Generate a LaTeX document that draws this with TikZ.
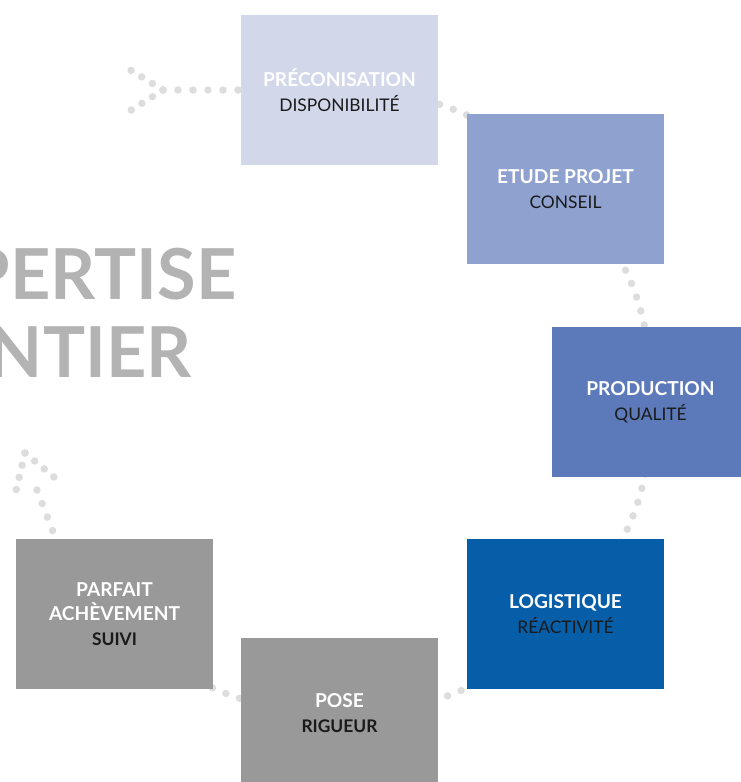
\documentclass[tikz,border=0pt]{standalone}
\usepackage{fontspec}
\setmainfont{Lato}
\usetikzlibrary{backgrounds}
\definecolor{preco}{HTML}{D2D7EA}
\definecolor{etude}{HTML}{8EA1CF}
\definecolor{prod}{HTML}{5C7AB9}
\definecolor{logi}{HTML}{065EA9}
\definecolor{grisbox}{HTML}{999999}
\definecolor{grispoint}{HTML}{DDDDDD}
\definecolor{grisgrand}{HTML}{B3B3B3}
\definecolor{soustitre}{HTML}{1A1A1A}
\newcommand{\etapetitre}[1]{\textcolor{white}{\fontsize{10.9}{14}\selectfont\bfseries #1}}
\newcommand{\etapesous}[1]{\textcolor{soustitre}{#1}}
\tikzset{
  etape/.style={fill=#1, minimum width=3.94cm, minimum height=3cm, inner sep=0pt,
    align=center, font=\fontsize{9.9}{14}\selectfont},
  pointille/.style={draw=grispoint, line width=0.15cm, line cap=round, dash pattern=on 0pt off #1},
  pointille/.default=0.29cm,
  grandtexte/.style={anchor=base east, inner sep=0pt, text=grisgrand,
    font=\fontsize{40}{40}\selectfont\bfseries}
}
\begin{document}
\begin{tikzpicture}[x=0.02cm, y=-0.02cm]
    \useasboundingbox (0,0) rectangle (741,782);

    \node[grandtexte] (expertise) at (237,299) {PERTISE};
    \node[grandtexte] (chantier) at (192,377) {NTIER};

    \node[etape=preco] (preco) at (339.5,90) {\etapetitre{PRÉCONISATION}\\\etapesous{DISPONIBILITÉ}};
    \node[etape=etude] (etude) at (565.5,189) {\etapetitre{ETUDE PROJET}\\\etapesous{CONSEIL}};
    \node[etape=prod] (production) at (650.5,402) {\etapetitre{PRODUCTION}\\\etapesous{QUALITÉ}};
    \node[etape=logi] (logistique) at (565.5,614) {\etapetitre{LOGISTIQUE}\\\etapesous{RÉACTIVITÉ}};
    \node[etape=grisbox] (pose) at (339.5,713) {\etapetitre{POSE}\\\etapesous{\bfseries RIGUEUR}};
    \node[etape=grisbox] (parfait) at (114.5,614) {\etapetitre{PARFAIT}\\\etapetitre{ACHÈVEMENT}\\\etapesous{\bfseries SUIVI}};

    \coordinate (queue) at (163,90);
    \coordinate (queueh) at (130.5,70);
    \coordinate (queueb) at (130.5,110.5);
    \coordinate (fleche) at (37,490);
    \coordinate (pointe) at (25,453);
    \coordinate (pointeg) at (16,490.5);
    \coordinate (pointed) at (54.5,477.5);

    \begin{scope}[on background layer]
    \draw[pointille] (preco.center) to[bend left=23] (etude.center);
    \draw[pointille] (etude.center) to[bend left=23] (production.center);
    \draw[pointille] (production.center) to[bend left=23] (logistique.center);
    \draw[pointille] (logistique.center) to[bend left=23] (pose.center);
    \draw[pointille] (pose.center) to[bend left=23] (parfait.center);
    \draw[pointille] (fleche) -- (parfait.128);
    \draw[pointille=0.25cm] (pointe) -- (pointeg);
    \draw[pointille=0.25cm] (pointe) -- (pointed);
    \draw[pointille=0.3cm] (queue) -- (preco.west);
    \draw[pointille=0.25cm] (queue) -- (queueh);
    \draw[pointille=0.25cm] (queue) -- (queueb);
    \end{scope}
\end{tikzpicture}
\end{document}
